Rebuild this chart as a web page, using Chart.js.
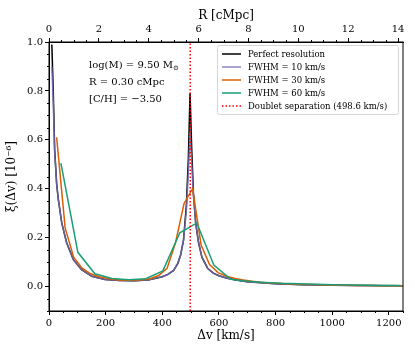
<!DOCTYPE html>
<html>
<head>
<meta charset="utf-8">
<script src="https://cdn.jsdelivr.net/npm/chart.js@4"></script>
<style>html,body{margin:0;padding:0;background:#fff}</style>
</head>
<body>
<canvas id="c" width="415" height="346"></canvas>
<script>
// values, dv in km/s, xi in 1e-6
var perfX = [10, 15, 20, 27, 33, 45, 62, 86, 115, 151, 198, 250, 300, 350, 400, 420, 440, 455, 465, 475, 485, 492, 498, 504, 510, 518, 528, 540, 560, 580, 600, 630, 660, 700, 750, 800, 900, 1000, 1100, 1250];
var perfY = [0.99, 0.80, 0.56, 0.42, 0.355, 0.26, 0.18, 0.11, 0.069, 0.042, 0.029, 0.025, 0.024, 0.027, 0.040, 0.050, 0.066, 0.095, 0.13, 0.19, 0.33, 0.52, 0.79, 0.56, 0.38, 0.26, 0.18, 0.12, 0.075, 0.055, 0.044, 0.034, 0.027, 0.020, 0.015, 0.011, 0.007, 0.005, 0.004, 0.003];
var fwhm10Y = [0.90, 0.75, 0.55, 0.42, 0.355, 0.26, 0.18, 0.11, 0.069, 0.042, 0.029, 0.025, 0.024, 0.027, 0.040, 0.050, 0.066, 0.095, 0.13, 0.19, 0.31, 0.46, 0.63, 0.50, 0.37, 0.26, 0.18, 0.12, 0.075, 0.055, 0.044, 0.034, 0.027, 0.020, 0.015, 0.011, 0.007, 0.005, 0.004, 0.003];

var fwhm30X = [27, 57, 87, 117, 147, 177, 207, 237, 267, 297, 327, 357, 387, 417, 447, 477, 507, 537, 567, 597, 627, 657, 687, 717, 747, 777, 807, 837, 867, 897, 927, 957, 987, 1017, 1047, 1077, 1107, 1137, 1167, 1197, 1227, 1257];
var fwhm30Y = [0.61, 0.24, 0.12, 0.075, 0.052, 0.040, 0.033, 0.028, 0.026, 0.026, 0.028, 0.032, 0.045, 0.075, 0.18, 0.34, 0.40, 0.17, 0.09, 0.057, 0.042, 0.033, 0.027, 0.022, 0.018, 0.015, 0.013, 0.011, 0.010, 0.009, 0.008, 0.007, 0.006, 0.005, 0.005, 0.004, 0.004, 0.004, 0.003, 0.003, 0.003, 0.003];

var fwhm60X = [42, 102, 162, 222, 282, 342, 402, 462, 522, 582, 642, 702, 762, 822, 882, 942, 1002, 1062, 1122, 1182, 1242];
var fwhm60Y = [0.505, 0.14, 0.052, 0.033, 0.028, 0.032, 0.064, 0.22, 0.26, 0.088, 0.030, 0.022, 0.017, 0.013, 0.011, 0.009, 0.007, 0.006, 0.005, 0.004, 0.004];

var doublet = 498.6;
var xTicks = [0, 200, 400, 600, 800, 1000, 1200];
var yTicks = [0, 0.2, 0.4, 0.6, 0.8, 1.0];
var rTicks = [0, 2, 4, 6, 8, 10, 12, 14];

function pts(xs, ys) {
  var out = [];
  for (var i = 0; i < xs.length; i++) out.push({x: xs[i], y: ys[i]});
  return out;
}

var FONT = 'DejaVu Serif';
Chart.defaults.font.family = FONT;
Chart.defaults.color = '#000';

var extras = {
  id: 'extras',
  afterDraw: function(chart) {
    var ctx = chart.ctx, a = chart.chartArea;
    var sx = chart.scales.x, sy = chart.scales.y, sr = chart.scales.x2;
    ctx.save();
    ctx.strokeStyle = '#000';
    ctx.lineWidth = 1;
    ctx.strokeRect(a.left, a.top, a.right - a.left, a.bottom - a.top);
    // minor ticks
    ctx.beginPath();
    for (var v = 0; v <= 1250; v += 50) {
      if (v % 200 === 0) continue;
      var px = Math.round(sx.getPixelForValue(v)) + 0.5;
      ctx.moveTo(px, a.bottom); ctx.lineTo(px, a.bottom + 2);
    }
    for (var k = -2; k <= 20; k++) {
      if (k % 4 === 0) continue;
      var py = Math.round(sy.getPixelForValue(k * 0.05)) + 0.5;
      ctx.moveTo(a.left - 2, py); ctx.lineTo(a.left, py);
    }
    for (var j = 0; j <= 28; j++) {
      if (j % 4 === 0) continue;
      var pr = Math.round(sr.getPixelForValue(j * 0.5)) + 0.5;
      ctx.moveTo(pr, a.top); ctx.lineTo(pr, a.top - 2);
    }
    ctx.stroke();

    // parameter text
    ctx.fillStyle = '#000';
    ctx.textBaseline = 'middle';
    ctx.textAlign = 'left';
    ctx.font = '10px "' + FONT + '"';
    var t1 = 'log(M) = 9.50 M';
    ctx.fillText(t1, 89, 65);
    var w1 = ctx.measureText(t1).width;
    ctx.font = '7px "' + FONT + '"';
    ctx.fillText('\u2299', 89 + w1, 68);
    ctx.font = '10px "' + FONT + '"';
    ctx.fillText('R = 0.30 cMpc', 89, 82);
    ctx.fillText('[C/H] = \u22123.50', 89, 99);

    // legend
    var lx = 217, ly = 45, lw = 181, lh = 69;
    ctx.beginPath();
    if (ctx.roundRect) ctx.roundRect(lx + 0.5, ly + 0.5, lw, lh, 2);
    else ctx.rect(lx + 0.5, ly + 0.5, lw, lh);
    ctx.fillStyle = 'rgba(255,255,255,0.8)';
    ctx.fill();
    ctx.strokeStyle = '#d6d6d6';
    ctx.stroke();
    ctx.font = '8.5px "' + FONT + '"';
    chart.data.datasets.forEach(function(ds, i) {
      var y = 54 + i * 13;
      ctx.beginPath();
      ctx.setLineDash(ds.borderDash || []);
      ctx.strokeStyle = ds.borderColor;
      ctx.lineWidth = ds.borderWidth;
      ctx.moveTo(222, y); ctx.lineTo(241, y);
      ctx.stroke();
      ctx.setLineDash([]);
      ctx.fillStyle = '#000';
      ctx.fillText(ds.label, 248, y + 0.5);
    });
    ctx.restore();
  }
};

var axisGrid = {drawOnChartArea: false, tickLength: 4, color: '#000', lineWidth: 1};
var plainLabel = function(v) { return String(v); };

new Chart(document.getElementById('c'), {
  type: 'line',
  data: {
    datasets: [
      {label: 'Perfect resolution', data: pts(perfX, perfY), borderColor: '#000000', borderWidth: 1.5, order: 4},
      {label: 'FWHM = 10 km/s', data: pts(perfX, fwhm10Y), borderColor: 'rgba(117,112,179,0.85)', borderWidth: 1.5, order: 3},
      {label: 'FWHM = 30 km/s', data: pts(fwhm30X, fwhm30Y), borderColor: '#d95f02', borderWidth: 1.5, order: 2},
      {label: 'FWHM = 60 km/s', data: pts(fwhm60X, fwhm60Y), borderColor: '#1b9e77', borderWidth: 1.5, order: 1},
      {label: 'Doublet separation (498.6 km/s)', data: [{x: doublet, y: -0.1}, {x: doublet, y: 1.0}], borderColor: '#ff0000', borderWidth: 1.5, borderDash: [1.5, 2], order: 0}
    ]
  },
  options: {
    responsive: false,
    animation: false,
    devicePixelRatio: 1,
    layout: {padding: {left: 0, right: 12, top: 0, bottom: 0}},
    elements: {point: {radius: 0}, line: {tension: 0, fill: false}},
    plugins: {legend: {display: false}, tooltip: {enabled: false}},
    scales: {
      x: {
        type: 'linear', position: 'bottom', min: 0, max: 1250,
        afterBuildTicks: function(s) { s.ticks = xTicks.map(function(v) { return {value: v}; }); },
        afterFit: function(s) { s.height = 35; },
        ticks: {font: {size: 10}, color: '#000', padding: 2, maxRotation: 0, callback: plainLabel},
        grid: axisGrid,
        border: {color: '#000', width: 1},
        title: {display: true, text: '\u0394v [km/s]', font: {size: 12}, color: '#000', padding: {top: 0, bottom: 3}}
      },
      x2: {
        type: 'linear', position: 'top', min: 0, max: 14.2,
        afterBuildTicks: function(s) { s.ticks = rTicks.map(function(v) { return {value: v}; }); },
        afterFit: function(s) { s.height = 42; },
        ticks: {font: {size: 10}, color: '#000', padding: 3, maxRotation: 0, callback: plainLabel},
        grid: axisGrid,
        border: {color: '#000', width: 1},
        title: {display: true, text: 'R [cMpc]', font: {size: 12}, color: '#000', padding: {top: 9, bottom: 0}}
      },
      y: {
        type: 'linear', position: 'left', min: -0.1, max: 1.0,
        afterBuildTicks: function(s) { s.ticks = yTicks.map(function(v) { return {value: v}; }); },
        afterFit: function(s) { s.width = 49; },
        ticks: {font: {size: 10}, color: '#000', padding: 2, callback: function(v) { return v.toFixed(1); }},
        grid: axisGrid,
        border: {color: '#000', width: 1},
        title: {display: true, text: '\u03BE(\u0394v) [10\u207B\u2076]', font: {size: 12}, color: '#000', padding: {top: 5, bottom: 0}}
      }
    }
  },
  plugins: [extras]
});
</script>
</body>
</html>
